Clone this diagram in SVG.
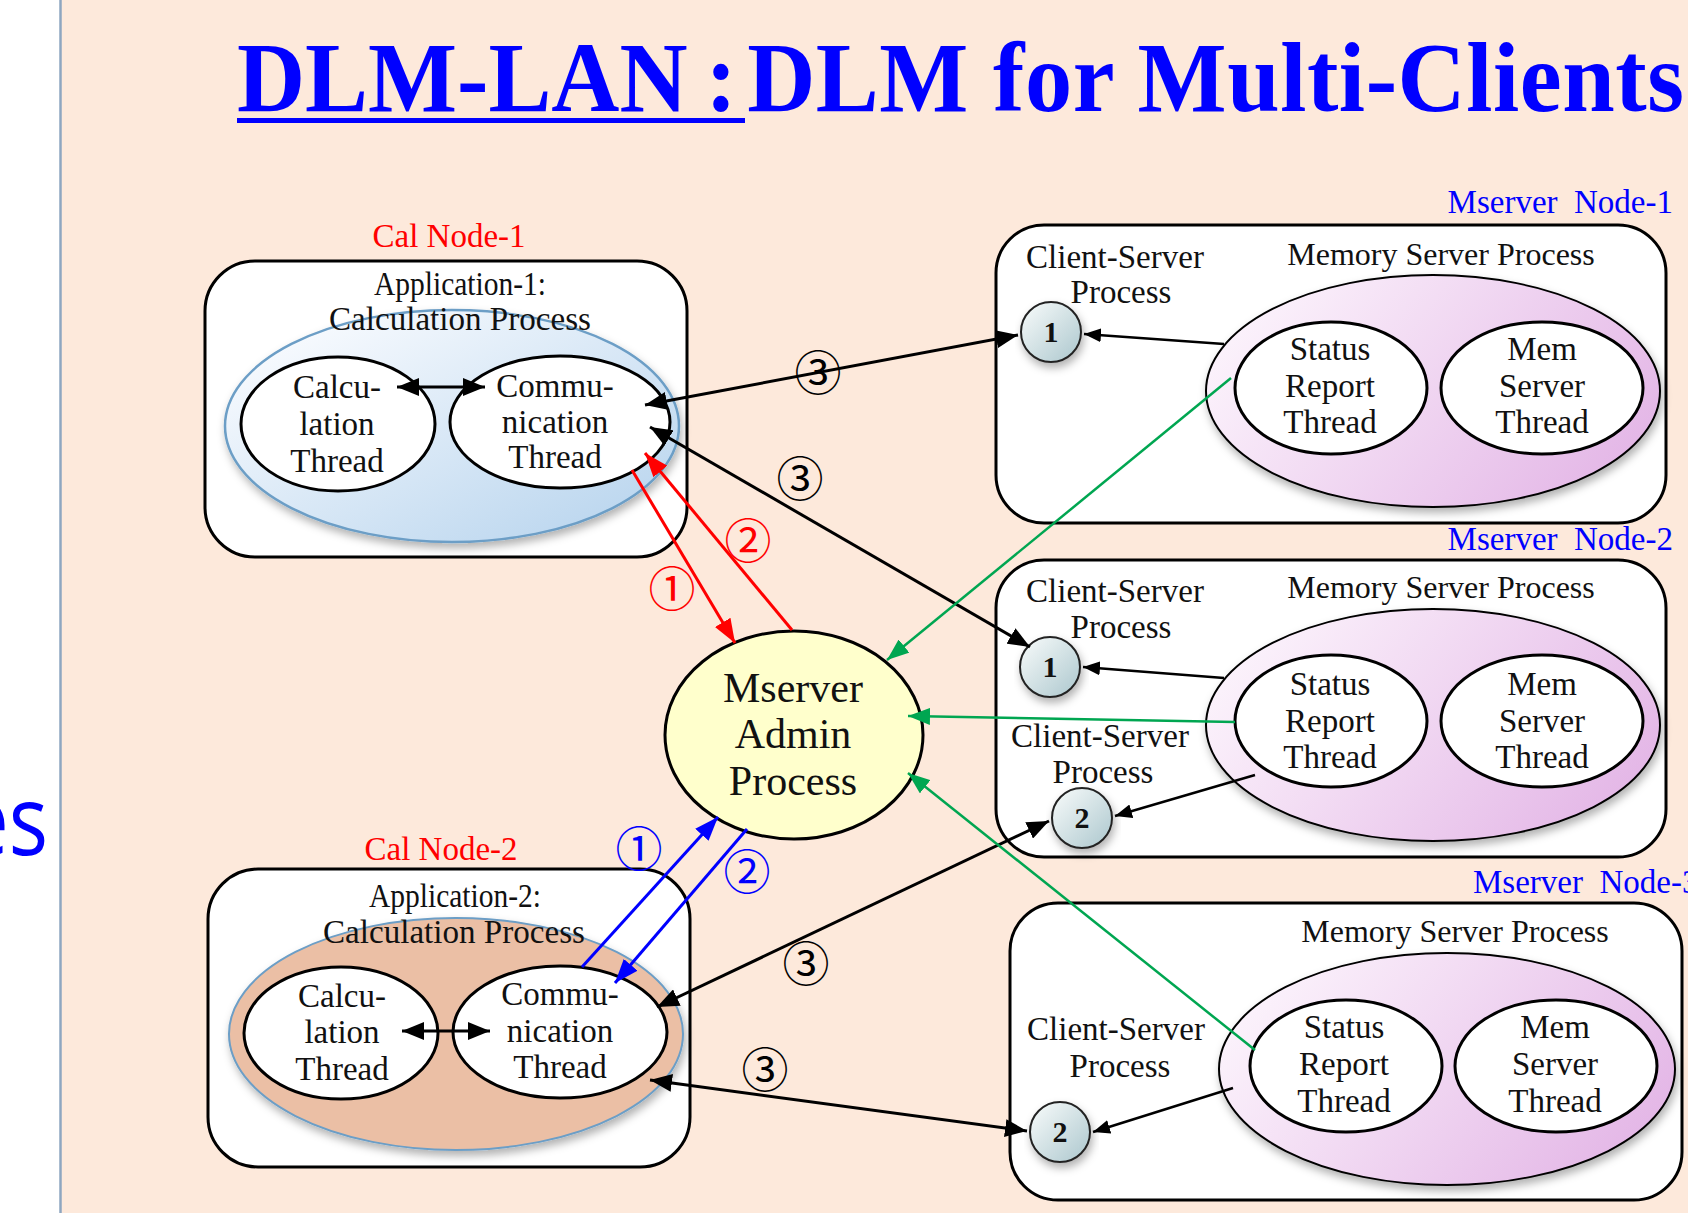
<svg xmlns="http://www.w3.org/2000/svg" width="1688" height="1213" viewBox="0 0 1688 1213">
  <defs>
    <style>
      .tx{font-family:"Liberation Serif","Times New Roman",serif;font-size:33px;fill:#111;text-anchor:middle;}
      .tx32{font-family:"Liberation Serif","Times New Roman",serif;font-size:32px;fill:#111;text-anchor:middle;}
      .big{font-family:"Liberation Serif","Times New Roman",serif;font-size:42px;fill:#111;text-anchor:middle;}
      .red{font-family:"Liberation Serif","Times New Roman",serif;font-size:33px;fill:#ff0000;text-anchor:middle;}
      .blu{font-family:"Liberation Serif","Times New Roman",serif;font-size:33px;fill:#0000ff;white-space:pre;}
      .box{fill:#ffffff;stroke:#000;stroke-width:3;}
      .thr{fill:#ffffff;stroke:#000;stroke-width:3;}
      .msp{fill:url(#gPurple);stroke:#000;stroke-width:2;}
      .csn{fill:url(#gCircle);stroke:#222;stroke-width:2;}
      .num{font-family:"Liberation Serif","Times New Roman",serif;font-weight:bold;font-size:30px;fill:#111;text-anchor:middle;}
      .step{font-family:"Noto Sans CJK JP",sans-serif;font-size:47px;text-anchor:middle;}
      .k{stroke:#000;stroke-width:3;fill:none;}
      .ks{stroke:#000;stroke-width:2.5;fill:none;}
      .r{stroke:#ff0000;stroke-width:3;fill:none;}
      .b{stroke:#0000ff;stroke-width:3;fill:none;}
      .g{stroke:#00a651;stroke-width:2.5;fill:none;}
    </style>
    <linearGradient id="gBlue" x1="0.15" y1="0.1" x2="0.95" y2="0.9">
      <stop offset="0" stop-color="#f7fafe"/>
      <stop offset="1" stop-color="#b9d5ee"/>
    </linearGradient>
    <linearGradient id="gPurple" x1="0" y1="0.3" x2="1" y2="0.7">
      <stop offset="0" stop-color="#fcf4fc"/>
      <stop offset="1" stop-color="#e3b5e6"/>
    </linearGradient>
    <linearGradient id="gCircle" x1="0.1" y1="0.1" x2="0.9" y2="0.9">
      <stop offset="0" stop-color="#f2f7f7"/>
      <stop offset="1" stop-color="#b3ccd2"/>
    </linearGradient>
    <filter id="sh" x="-10%" y="-10%" width="125%" height="135%">
      <feDropShadow dx="2" dy="5" stdDeviation="4" flood-color="#000" flood-opacity="0.3"/>
    </filter>
    <marker id="ak" viewBox="0 0 22 18" refX="22" refY="9" markerWidth="22" markerHeight="18" markerUnits="userSpaceOnUse" orient="auto-start-reverse">
      <path d="M0,0 L22,9 L0,18 z" fill="#000"/>
    </marker>
    <marker id="aks" viewBox="0 0 17 14" refX="17" refY="7" markerWidth="17" markerHeight="14" markerUnits="userSpaceOnUse" orient="auto-start-reverse">
      <path d="M0,0 L17,7 L0,14 z" fill="#000"/>
    </marker>
    <marker id="ar" viewBox="0 0 24 18" refX="24" refY="9" markerWidth="24" markerHeight="18" markerUnits="userSpaceOnUse" orient="auto">
      <path d="M0,0 L24,9 L0,18 z" fill="#ff0000"/>
    </marker>
    <marker id="ab" viewBox="0 0 24 18" refX="24" refY="9" markerWidth="24" markerHeight="18" markerUnits="userSpaceOnUse" orient="auto">
      <path d="M0,0 L24,9 L0,18 z" fill="#0000ff"/>
    </marker>
    <marker id="ag" viewBox="0 0 22 17" refX="22" refY="8.5" markerWidth="22" markerHeight="17" markerUnits="userSpaceOnUse" orient="auto">
      <path d="M0,0 L22,8.5 L0,17 z" fill="#00a651"/>
    </marker>
  </defs>

  <!-- page background: white margin strip and peach slide area -->
  <rect x="0" y="0" width="1688" height="1213" fill="#ffffff"/>
  <rect x="61" y="0" width="1627" height="1213" fill="#fde9db"/>
  <line x1="60.5" y1="0" x2="60.5" y2="1213" stroke="#8ea6c0" stroke-width="2.5"/>
  <text transform="translate(48,855) scale(0.85,1)" font-family="'Open Sans','Noto Sans',sans-serif" font-size="97" fill="#0000ff" text-anchor="end">es</text>

  <!-- title: one condensed bold line, first part underlined -->
  <g id="title">
    <text transform="translate(237,111) scale(0.943,1)" font-family="'Liberation Serif','Times New Roman',serif" font-weight="bold" font-size="100" fill="#0000ff"><tspan>DLM-LAN</tspan><tspan dx="19">:</tspan><tspan dx="11" letter-spacing="0.6">DLM for Multi-Clients</tspan></text>
    <rect x="237" y="118" width="508" height="5" fill="#0000ff"/>
  </g>

  <!-- calculation node 1 -->
  <g id="cal-node-1">
    <text class="red" x="449" y="247">Cal Node-1</text>
    <rect class="box" x="205" y="261" width="482" height="296" rx="50"/>
    <text class="tx" x="460" y="295" font-size="27" textLength="172" lengthAdjust="spacingAndGlyphs">Application-1:</text>
    <ellipse cx="452" cy="426" rx="227" ry="116" fill="url(#gBlue)" stroke="#6c9ec6" stroke-width="2.5" filter="url(#sh)"/>
    <text class="tx" x="460" y="330" textLength="262" lengthAdjust="spacingAndGlyphs">Calculation Process</text>
    <ellipse class="thr" cx="338" cy="424" rx="97" ry="67"/>
    <text class="tx" x="337" y="398">Calcu-</text>
    <text class="tx" x="337" y="435">lation</text>
    <text class="tx" x="337" y="472">Thread</text>
    <ellipse class="thr" cx="560" cy="422" rx="110" ry="66"/>
    <text class="tx" x="555" y="397">Commu-</text>
    <text class="tx" x="555" y="433">nication</text>
    <text class="tx" x="555" y="468">Thread</text>
  </g>

  <!-- calculation node 2 -->
  <g id="cal-node-2">
    <text class="red" x="441" y="860">Cal Node-2</text>
    <rect class="box" x="208" y="869" width="482" height="298" rx="50"/>
    <text class="tx" x="455" y="907" font-size="27" textLength="172" lengthAdjust="spacingAndGlyphs">Application-2:</text>
    <ellipse cx="456" cy="1034" rx="227" ry="116" fill="#ebbfa5" stroke="#6c9ec6" stroke-width="2" filter="url(#sh)"/>
    <text class="tx" x="454" y="943" textLength="262" lengthAdjust="spacingAndGlyphs">Calculation Process</text>
    <ellipse class="thr" cx="341" cy="1033" rx="97" ry="66"/>
    <text class="tx" x="342" y="1007">Calcu-</text>
    <text class="tx" x="342" y="1043">lation</text>
    <text class="tx" x="342" y="1080">Thread</text>
    <ellipse class="thr" cx="560" cy="1032" rx="107" ry="66"/>
    <text class="tx" x="560" y="1005">Commu-</text>
    <text class="tx" x="560" y="1042">nication</text>
    <text class="tx" x="560" y="1078">Thread</text>
  </g>

  <!-- admin process -->
  <g id="mserver-admin">
    <ellipse cx="794" cy="735" rx="129" ry="104" fill="#ffffcc" stroke="#000" stroke-width="3"/>
    <text class="big" x="793" y="702">Mserver</text>
    <text class="big" x="793" y="748">Admin</text>
    <text class="big" x="793" y="795">Process</text>
  </g>

  <!-- memory server node 1 -->
  <g id="mserver-node-1">
    <text class="blu" x="1673" y="213" text-anchor="end">Mserver  Node-1</text>
    <rect class="box" x="996" y="225" width="670" height="298" rx="48"/>
    <text class="tx" x="1115" y="268">Client-Server</text>
    <text class="tx" x="1121" y="303">Process</text>
    <text class="tx32" x="1441" y="265">Memory Server Process</text>
    <ellipse class="msp" cx="1433" cy="391" rx="227" ry="116" filter="url(#sh)"/>
    <ellipse class="thr" cx="1331" cy="388" rx="96" ry="66"/>
    <text class="tx" x="1330" y="360">Status</text>
    <text class="tx" x="1330" y="397">Report</text>
    <text class="tx" x="1330" y="433">Thread</text>
    <ellipse class="thr" cx="1542" cy="388" rx="101" ry="66"/>
    <text class="tx" x="1542" y="360">Mem</text>
    <text class="tx" x="1542" y="397">Server</text>
    <text class="tx" x="1542" y="433">Thread</text>
    <circle class="csn" cx="1051" cy="332" r="30" filter="url(#sh)"/>
    <text class="num" x="1051" y="342">1</text>
  </g>

  <!-- memory server node 2 -->
  <g id="mserver-node-2">
    <text class="blu" x="1673" y="550" text-anchor="end">Mserver  Node-2</text>
    <rect class="box" x="996" y="560" width="670" height="297" rx="48"/>
    <text class="tx" x="1115" y="602">Client-Server</text>
    <text class="tx" x="1121" y="638">Process</text>
    <text class="tx32" x="1441" y="598">Memory Server Process</text>
    <ellipse class="msp" cx="1433" cy="725" rx="227" ry="116" filter="url(#sh)"/>
    <ellipse class="thr" cx="1331" cy="721" rx="96" ry="66"/>
    <text class="tx" x="1330" y="695">Status</text>
    <text class="tx" x="1330" y="732">Report</text>
    <text class="tx" x="1330" y="768">Thread</text>
    <ellipse class="thr" cx="1542" cy="721" rx="101" ry="66"/>
    <text class="tx" x="1542" y="695">Mem</text>
    <text class="tx" x="1542" y="732">Server</text>
    <text class="tx" x="1542" y="768">Thread</text>
    <text class="tx" x="1100" y="747">Client-Server</text>
    <text class="tx" x="1103" y="783">Process</text>
    <circle class="csn" cx="1050" cy="667" r="30" filter="url(#sh)"/>
    <text class="num" x="1050" y="677">1</text>
    <circle class="csn" cx="1082" cy="818" r="30" filter="url(#sh)"/>
    <text class="num" x="1082" y="828">2</text>
  </g>

  <!-- memory server node 3 -->
  <g id="mserver-node-3">
    <text class="blu" x="1473" y="893">Mserver  Node-3</text>
    <rect class="box" x="1010" y="903" width="672" height="297" rx="48"/>
    <text class="tx32" x="1455" y="942">Memory Server Process</text>
    <ellipse class="msp" cx="1447" cy="1069" rx="228" ry="116" filter="url(#sh)"/>
    <ellipse class="thr" cx="1346" cy="1066" rx="96" ry="66"/>
    <text class="tx" x="1344" y="1038">Status</text>
    <text class="tx" x="1344" y="1075">Report</text>
    <text class="tx" x="1344" y="1112">Thread</text>
    <ellipse class="thr" cx="1556" cy="1066" rx="101" ry="66"/>
    <text class="tx" x="1555" y="1038">Mem</text>
    <text class="tx" x="1555" y="1075">Server</text>
    <text class="tx" x="1555" y="1112">Thread</text>
    <text class="tx" x="1116" y="1040">Client-Server</text>
    <text class="tx" x="1120" y="1077">Process</text>
    <circle class="csn" cx="1060" cy="1132" r="30" filter="url(#sh)"/>
    <text class="num" x="1060" y="1142">2</text>
  </g>

  <!-- connectors and step numbers -->
  <g id="connectors">
    <!-- thread-to-thread inside calculation processes -->
    <line class="k" x1="397" y1="387" x2="485" y2="387" marker-start="url(#ak)" marker-end="url(#ak)"/>
    <line class="k" x1="402" y1="1031" x2="490" y2="1031" marker-start="url(#ak)" marker-end="url(#ak)"/>

    <!-- step 3: communication thread to client-server processes -->
    <line class="k" x1="645" y1="405" x2="1018" y2="335" marker-start="url(#ak)" marker-end="url(#ak)"/>
    <line class="k" x1="650" y1="427" x2="1030" y2="647" marker-start="url(#ak)" marker-end="url(#ak)"/>
    <line class="k" x1="657" y1="1007" x2="1049" y2="821" marker-start="url(#ak)" marker-end="url(#ak)"/>
    <line class="k" x1="650" y1="1080" x2="1027" y2="1131" marker-start="url(#ak)" marker-end="url(#ak)"/>

    <!-- memory server process to client-server process -->
    <line class="ks" x1="1224" y1="344" x2="1084" y2="334" marker-end="url(#aks)"/>
    <line class="ks" x1="1224" y1="678" x2="1083" y2="667" marker-end="url(#aks)"/>
    <line class="ks" x1="1255" y1="775" x2="1115" y2="816" marker-end="url(#aks)"/>
    <line class="ks" x1="1233" y1="1088" x2="1093" y2="1132" marker-end="url(#aks)"/>

    <!-- steps 1 and 2 with the admin process -->
    <line class="r" x1="632" y1="470" x2="735" y2="643" marker-end="url(#ar)"/>
    <line class="r" x1="792" y1="630" x2="645" y2="453" marker-end="url(#ar)"/>
    <line class="b" x1="582" y1="967" x2="718" y2="817" marker-end="url(#ab)"/>
    <line class="b" x1="747" y1="829" x2="615" y2="983" marker-end="url(#ab)"/>

    <!-- status reports -->
    <line class="g" x1="1231" y1="378" x2="887" y2="660" marker-end="url(#ag)"/>
    <line class="g" x1="1235" y1="722" x2="908" y2="716" marker-end="url(#ag)"/>
    <line class="g" x1="1255" y1="1050" x2="908" y2="773" marker-end="url(#ag)"/>

    <text class="step" x="818" y="390" fill="#000">③</text>
    <text class="step" x="800" y="496" fill="#000">③</text>
    <text class="step" x="806" y="981" fill="#000">③</text>
    <text class="step" x="765" y="1087" fill="#000">③</text>
    <text class="step" x="672" y="606" fill="#ff0000">①</text>
    <text class="step" x="748" y="558" fill="#ff0000">②</text>
    <text class="step" x="639" y="866" fill="#0000ff">①</text>
    <text class="step" x="747" y="889" fill="#0000ff">②</text>
  </g>
</svg>
